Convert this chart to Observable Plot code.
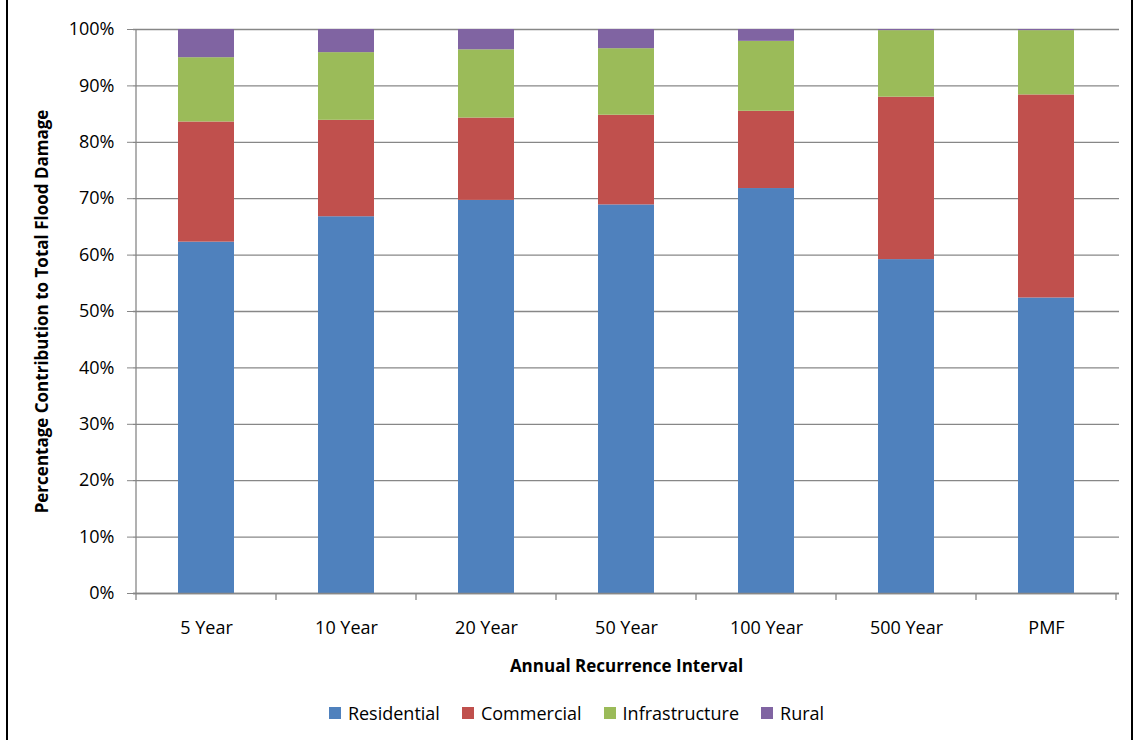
<!DOCTYPE html>
<html>
<head>
<meta charset="utf-8">
<script src="https://cdn.jsdelivr.net/npm/d3@7"></script>
<script src="https://cdn.jsdelivr.net/npm/@observablehq/plot@0.6"></script>
<style>
  html, body { margin: 0; padding: 0; background: #fff; }
  body { width: 1136px; height: 740px; position: relative; overflow: hidden; font-family: "Open Sans", sans-serif; }
  #frame { position: absolute; left: 6px; top: -10px; width: 1127px; height: 800px; border-left: 2px solid #000; border-right: 2px solid #000; box-sizing: border-box; pointer-events: none; }
  #chart { position: absolute; left: 0; top: 0; }
  #legend { position: absolute; left: 17px; top: 701px; width: 1119px; display: flex; justify-content: center; font-size: 18px; color: #000; }
  .item { display: flex; align-items: center; margin: 0 11px; }
  .sw { width: 12px; height: 12px; margin-right: 7px; }
</style>
</head>
<body>
<div id="chart"></div>
<div id="legend"></div>
<div id="frame"></div>
<script>
const categories = ["5 Year", "10 Year", "20 Year", "50 Year", "100 Year", "500 Year", "PMF"];
const seriesNames = ["Residential", "Commercial", "Infrastructure", "Rural"];
const residential    = [62.3, 66.8, 69.7, 68.9, 71.8, 59.2, 52.4];
const commercial     = [21.3, 17.1, 14.6, 15.9, 13.7, 28.8, 36.0];
const infrastructure = [11.4, 12.0, 12.1, 11.8, 12.4, 11.8, 11.4];
const rural          = [5.0, 4.1, 3.6, 3.4, 2.1, 0.2, 0.2];
const yTicks = [0, 10, 20, 30, 40, 50, 60, 70, 80, 90, 100];
const seriesColors = ["#4F81BD", "#C0504D", "#9BBB59", "#8064A2"];

const seriesValues = [residential, commercial, infrastructure, rural];
const rows = [];
seriesNames.forEach((s, si) => {
  categories.forEach((c, ci) => rows.push({interval: c, type: s, value: seriesValues[si][ci]}));
});

const gray = "#878787";

function boundaryTicks(index, scales, values, dimensions) {
  const x = scales.x, y = scales.y;
  const step = x.step ? x.step() : x.bandwidth() / 0.4;
  const g = d3.create("svg:g").attr("stroke", gray).attr("stroke-width", 1.3);
  const y0 = y(0), y1 = y(100);
  const left = x(categories[0]) - step * 0.3;
  g.append("line").attr("x1", left).attr("x2", left).attr("y1", y1).attr("y2", y0 + 7);
  categories.forEach(c => {
    const xb = x(c) + x.bandwidth() + step * 0.3;
    g.append("line").attr("x1", xb).attr("x2", xb).attr("y1", y0).attr("y2", y0 + 7);
  });
  return g.node();
}

const chart = Plot.plot({
  width: 1136,
  height: 690,
  marginLeft: 133,
  marginRight: 17,
  marginTop: 29,
  marginBottom: 97,
  style: {fontFamily: "'Open Sans', sans-serif", fontSize: "18px", color: "#000", background: "transparent"},
  x: {domain: categories, paddingInner: 0.6, paddingOuter: 0.3},
  y: {domain: [0, 100]},
  color: {domain: seriesNames, range: seriesColors},
  marks: [
    Plot.gridY(yTicks, {stroke: gray, strokeOpacity: 1, strokeWidth: 1.3}),
    Plot.barY(rows, {x: "interval", y: "value", fill: "type", inset: 0}),
    Plot.ruleY([0], {stroke: gray, strokeWidth: 1.3}),
    boundaryTicks,
    Plot.axisY(yTicks, {tickFormat: d => d + "%", tickSize: 6, tickPadding: 13, stroke: gray, fontSize: 18,
      label: "Percentage Contribution to Total Flood Damage", labelAnchor: "center", labelArrow: "none", labelOffset: 98}),
    Plot.axisX({tickSize: 0, tickPadding: 28, fontSize: 18, label: "Annual Recurrence Interval", labelAnchor: "center", labelArrow: "none", labelOffset: 78})
  ]
});
document.getElementById("chart").appendChild(chart);

chart.querySelectorAll('[aria-label="y-axis label"], [aria-label="x-axis label"]').forEach(el => {
  el.setAttribute("font-weight", "bold");
  el.style.fontWeight = "bold";
  el.setAttribute("font-size", "17");
});

const legend = document.getElementById("legend");
seriesNames.forEach((s, i) => {
  const item = document.createElement("div");
  item.className = "item";
  const sw = document.createElement("div");
  sw.className = "sw";
  sw.style.background = seriesColors[i];
  const t = document.createElement("span");
  t.textContent = s;
  item.appendChild(sw); item.appendChild(t);
  legend.appendChild(item);
});
</script>
</body>
</html>
